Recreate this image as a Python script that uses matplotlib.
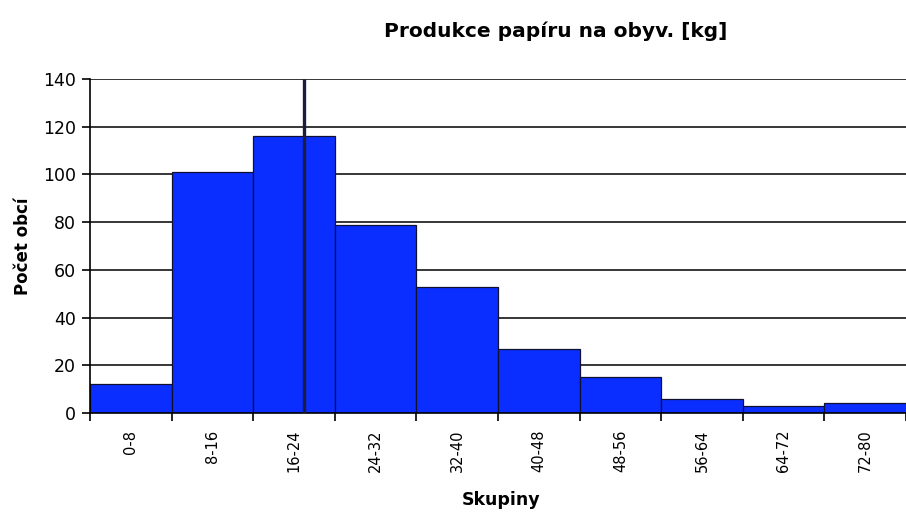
import matplotlib.pyplot as plt
import numpy as np

groups = ['0-8', '8-16', '16-24', '24-32', '32-40', '40-48', '48-56', '56-64', '64-72', '72-80']
bin_left = [0, 8, 16, 24, 32, 40, 48, 56, 64, 72]
counts = [12, 101, 116, 79, 53, 27, 15, 6, 3, 4]
bin_width = 8
mark_value = 21

plt.rcParams['font.family'] = ['DejaVu Sans']

fig = plt.figure(figsize=(9.06, 5.18), dpi=100)
ax = fig.add_axes([0.0993, 0.2027, 0.9007, 0.6448])

# histogram bars
ax.bar(bin_left, counts, width=bin_width, align='edge',
       color='#0a2eff', edgecolor='#101030', linewidth=0.9, zorder=2)

# marker line (mean)
ax.vlines(mark_value, 0, 140, color='#1c1c3c', linewidth=2.4, zorder=3)

ax.set_xlim(0, 80)
ax.set_ylim(0, 140)
ax.set_yticks(np.arange(0, 141, 20))
ax.yaxis.grid(True, color='black', linewidth=1.1, zorder=0)
ax.set_axisbelow(True)

# ticks at bin edges, labels at bin centres
ax.set_xticks(np.arange(0, 81, 8))
ax.set_xticklabels([])
ax.set_xticks([b + bin_width / 2 for b in bin_left], minor=True)
ax.set_xticklabels(groups, minor=True, rotation=90, fontsize=10.5)
ax.tick_params(axis='x', which='major', length=6, width=1.2, direction='out')
ax.tick_params(axis='x', which='minor', length=0, pad=12)
ax.tick_params(axis='y', length=6, width=1.2, labelsize=12.5, pad=4)

for s in ['top', 'right']:
    ax.spines[s].set_visible(False)
ax.spines['left'].set_linewidth(1.2)
ax.spines['bottom'].set_linewidth(1.2)

fig.text(0.613, 0.94, 'Produkce papíru na obyv. [kg]', ha='center', va='center',
         fontsize=14.5, fontweight='bold')
ax.set_ylabel('Počet obcí', fontsize=12, fontweight='bold', labelpad=8)
fig.text(0.553, 0.035, 'Skupiny', ha='center', va='center', fontsize=12.5, fontweight='bold')

plt.savefig('out.png', dpi=100)
